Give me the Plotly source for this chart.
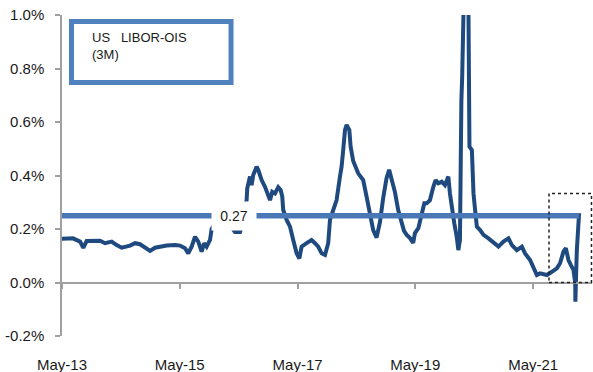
import plotly.graph_objects as go

# ---- data: US LIBOR-OIS (3M) spread, % ----
dates = [
    "2013-05-01", "2013-07-08", "2013-08-21", "2013-09-10", "2013-10-01", "2013-12-23",
    "2014-01-23", "2014-03-05", "2014-04-05", "2014-05-06", "2014-06-27", "2014-07-28",
    "2014-08-28", "2014-10-08", "2014-10-29", "2014-11-29", "2014-12-30", "2015-02-09",
    "2015-04-02", "2015-05-03", "2015-06-03", "2015-06-23", "2015-07-14", "2015-08-04",
    "2015-08-24", "2015-09-14", "2015-09-29", "2015-10-15", "2015-11-05", "2015-11-15",
    "2015-12-12", "2016-01-18", "2016-02-24", "2016-04-08", "2016-05-09", "2016-05-27",
    "2016-06-19", "2016-06-23", "2016-07-10", "2016-07-20", "2016-07-30", "2016-08-20",
    "2016-08-30", "2016-09-20", "2016-10-11", "2016-10-31", "2016-11-11", "2016-11-25",
    "2016-12-12", "2017-01-01", "2017-01-16", "2017-01-26", "2017-02-01", "2017-02-22",
    "2017-03-15", "2017-04-04", "2017-04-25", "2017-05-12", "2017-05-26", "2017-06-26",
    "2017-07-27", "2017-08-17", "2017-09-06", "2017-09-27", "2017-10-18", "2017-11-07",
    "2017-11-18", "2017-12-08", "2017-12-29", "2018-01-19", "2018-01-29", "2018-02-08",
    "2018-02-19", "2018-03-01", "2018-03-18", "2018-03-26", "2018-04-11", "2018-05-12",
    "2018-06-12", "2018-07-03", "2018-07-24", "2018-08-13", "2018-09-03", "2018-09-24",
    "2018-10-14", "2018-11-04", "2018-11-20", "2018-12-06", "2018-12-26", "2019-01-15",
    "2019-02-06", "2019-02-20", "2019-03-09", "2019-03-29", "2019-04-18", "2019-04-29",
    "2019-05-20", "2019-06-10", "2019-06-26", "2019-07-11", "2019-07-31", "2019-08-21",
    "2019-09-04", "2019-09-21", "2019-10-12", "2019-11-01", "2019-11-22", "2019-12-02",
    "2019-12-16", "2019-12-29", "2020-01-13", "2020-01-23", "2020-02-02", "2020-02-06",
    "2020-02-11", "2020-02-16", "2020-02-23", "2020-03-08", "2020-03-26", "2020-04-01",
    "2020-04-16", "2020-04-22", "2020-04-26", "2020-05-06", "2020-05-17", "2020-06-06",
    "2020-06-27", "2020-07-28", "2020-08-28", "2020-09-28", "2020-10-29", "2020-11-29",
    "2020-12-20", "2021-01-20", "2021-02-20", "2021-03-12", "2021-04-12", "2021-05-03",
    "2021-05-24", "2021-06-13", "2021-07-25", "2021-08-25", "2021-09-25", "2021-10-15",
    "2021-11-05", "2021-11-20", "2021-12-06", "2021-12-21", "2022-01-06", "2022-01-17",
    "2022-01-18", "2022-01-22", "2022-01-27", "2022-02-01", "2022-02-06", "2022-02-10",
]
spread = [
    0.164, 0.165, 0.153, 0.130, 0.155, 0.156,
    0.147, 0.153, 0.140, 0.130, 0.138, 0.147,
    0.143, 0.128, 0.118, 0.130, 0.134, 0.138,
    0.140, 0.138, 0.128, 0.109, 0.134, 0.171,
    0.153, 0.115, 0.147, 0.134, 0.159, 0.200,
    0.226, 0.252, 0.226, 0.189, 0.189, 0.226,
    0.308, 0.352, 0.396, 0.364, 0.402, 0.433,
    0.421, 0.383, 0.358, 0.327, 0.308, 0.339,
    0.333, 0.356, 0.346, 0.321, 0.271, 0.234,
    0.209, 0.159, 0.109, 0.090, 0.134, 0.147,
    0.159, 0.147, 0.134, 0.109, 0.103, 0.147,
    0.234, 0.271, 0.308, 0.396, 0.433, 0.495,
    0.570, 0.589, 0.570, 0.508, 0.454, 0.408,
    0.383, 0.321, 0.246, 0.196, 0.168, 0.226,
    0.316, 0.391, 0.421, 0.383, 0.338, 0.271,
    0.222, 0.193, 0.178, 0.166, 0.148, 0.185,
    0.203, 0.259, 0.296, 0.296, 0.308, 0.358,
    0.383, 0.371, 0.377, 0.364, 0.396, 0.333,
    0.259, 0.221, 0.171, 0.121, 0.159, 0.495,
    0.682, 0.769, 1.006, 1.400, 1.006, 0.508,
    0.495, 0.371, 0.333, 0.271, 0.209, 0.196,
    0.178, 0.165, 0.147, 0.134, 0.153, 0.165,
    0.140, 0.121, 0.134, 0.109, 0.084, 0.053,
    0.028, 0.034, 0.028, 0.040, 0.053, 0.072,
    0.115, 0.128, 0.084, 0.065, 0.047, -0.003,
    -0.072, 0.022, 0.121, 0.178, 0.209, 0.259,
]

# reference level line and its label
ref_dates = ["2013-05-01", "2022-02-10"]
ref_values = [0.25, 0.25]
ref_label = "0.27"
ref_label_date = "2016-04-02"

x_tick_vals = ["2013-05-01", "2015-05-01", "2017-05-01", "2019-05-01", "2021-05-01"]
x_tick_text = ["May-13", "May-15", "May-17", "May-19", "May-21"]
y_tick_vals = [-0.2, 0.0, 0.2, 0.4, 0.6, 0.8, 1.0]
y_tick_text = ["-0.2%", "0.0%", "0.2%", "0.4%", "0.6%", "0.8%", "1.0%"]
x_range = ["2013-05-01", "2022-05-01"]
y_range = [-0.2, 1.0]

SERIES = "#1f4a80"
REF = "#4a78b6"
AXIS = "#a0a0a0"
FONT = "Liberation Sans, Arial, sans-serif"

fig = go.Figure()
fig.add_trace(go.Scatter(x=dates, y=spread, mode="lines",
                         line=dict(color=SERIES, width=4), xaxis="x", yaxis="y",
                         hoverinfo="skip"))
fig.add_trace(go.Scatter(x=ref_dates, y=ref_values, mode="lines",
                         line=dict(color=REF, width=5.5), xaxis="x2", yaxis="y",
                         hoverinfo="skip"))

zero_pos = (0 - y_range[0]) / (y_range[1] - y_range[0])

fig.update_layout(
    width=593, height=372,
    margin=dict(l=62, r=1, t=15, b=36, autoexpand=False),
    paper_bgcolor="white", plot_bgcolor="white",
    showlegend=False,
    font=dict(family=FONT, size=15, color="#1a1a1a"),
    xaxis=dict(range=x_range, type="date", tickvals=x_tick_vals, ticktext=x_tick_text,
               showgrid=False, zeroline=False, showline=False, automargin=False,
               ticks="outside", ticklen=12, tickcolor="rgba(0,0,0,0)",
               ticklabelstandoff=3, tickfont=dict(size=15)),
    xaxis2=dict(range=x_range, type="date", overlaying="x", anchor="free",
                position=zero_pos, tickvals=x_tick_vals, showticklabels=False,
                showgrid=False, zeroline=False, showline=True, linecolor=AXIS,
                automargin=False,
                linewidth=1.5, ticks="outside", ticklen=6, tickcolor=AXIS, tickwidth=1.5),
    yaxis=dict(range=y_range, tickvals=y_tick_vals, ticktext=y_tick_text,
               showgrid=False, zeroline=False, showline=True, linecolor=AXIS,
               automargin=False,
               linewidth=1.5, ticks="outside", ticklen=5, tickcolor=AXIS, tickwidth=1.5,
               ticklabelstandoff=8, tickfont=dict(size=15)),
)

# title box
fig.add_shape(type="rect", xref="paper", yref="paper",
              x0=0.0179, x1=0.3189, y0=0.7897, y1=0.9798,
              line=dict(color="#4f81bd", width=5), fillcolor="white", layer="above")
fig.add_annotation(xref="paper", yref="paper", x=0.0528, y=0.958,
                   xanchor="left", yanchor="top", align="left", showarrow=False,
                   text="US\u00a0\u00a0 LIBOR-OIS<br>(3M)",
                   font=dict(size=13, color="#1a1a1a", family=FONT))

# dotted highlight box
fig.add_shape(type="rect", xref="paper", yref="y",
              x0=0.9189, x1=0.999, y0=0.0, y1=0.333,
              line=dict(color="#222222", width=1.5, dash="dot"), layer="above")

# level label with white background
fig.add_annotation(x=ref_label_date, y=ref_values[0], xref="x", yref="y",
                   text=ref_label, showarrow=False, bgcolor="white",
                   width=44, height=28, borderpad=0,
                   font=dict(size=14, color="#1a1a1a", family=FONT))

fig.write_html("out.html")
